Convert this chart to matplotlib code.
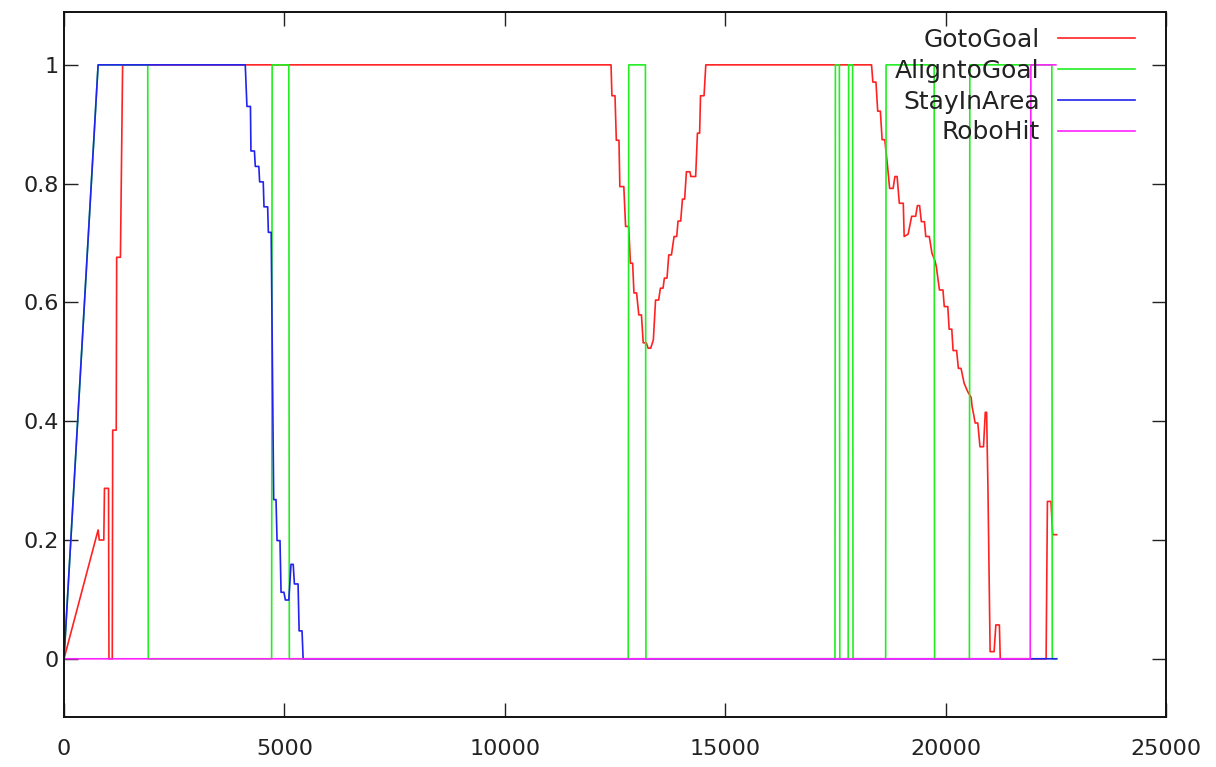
import numpy as np
import matplotlib.pyplot as plt
from matplotlib.ticker import FuncFormatter

# GotoGoal (red)
goto_x = [0, 774, 800, 903, 918, 1010, 1020, 1095, 1105, 1185, 1195, 1280, 1330,
          12410, 12430, 12500, 12530, 12590, 12610, 12700, 12740, 12810, 12850, 12900,
          12930, 12990, 13040, 13100, 13140, 13210, 13250, 13310, 13370, 13420, 13490,
          13530, 13590, 13620, 13680, 13720, 13780, 13840, 13900, 13930, 13990, 14030,
          14080, 14120, 14200, 14220, 14330, 14370, 14420, 14440, 14520, 14560,
          18320, 18350, 18420, 18460, 18520, 18560, 18620, 18680, 18730, 18810, 18850,
          18900, 18950, 19040, 19060, 19150, 19230, 19320, 19360, 19410, 19450, 19520,
          19550, 19630, 19690, 19760, 19790, 19860, 19940, 19970, 20050, 20080, 20140,
          20170, 20250, 20290, 20350, 20420, 20500, 20580, 20600, 20640, 20670, 20730,
          20780, 20860, 20900, 20930, 20960, 21010, 21100, 21140, 21220, 21240,
          22280, 22310, 22390, 22430, 22520]
goto_y = [0, 0.217, 0.2, 0.2, 0.287, 0.287, 0, 0, 0.385, 0.385, 0.676, 0.676, 1.0,
          1.0, 0.948, 0.948, 0.873, 0.873, 0.795, 0.795, 0.728, 0.728, 0.666, 0.666,
          0.616, 0.616, 0.579, 0.579, 0.532, 0.532, 0.523, 0.523, 0.537, 0.604, 0.604,
          0.624, 0.624, 0.641, 0.641, 0.680, 0.680, 0.711, 0.711, 0.737, 0.737, 0.774,
          0.774, 0.820, 0.820, 0.812, 0.812, 0.885, 0.885, 0.948, 0.948, 1.0,
          1.0, 0.971, 0.971, 0.922, 0.922, 0.874, 0.874, 0.832, 0.792, 0.792, 0.812,
          0.812, 0.767, 0.767, 0.711, 0.715, 0.745, 0.745, 0.763, 0.763, 0.736, 0.736,
          0.711, 0.711, 0.683, 0.67, 0.66, 0.621, 0.621, 0.593, 0.593, 0.555, 0.555,
          0.519, 0.519, 0.489, 0.489, 0.464, 0.45, 0.44, 0.425, 0.41, 0.397, 0.397,
          0.357, 0.357, 0.415, 0.415, 0.291, 0.012, 0.012, 0.057, 0.057, 0,
          0, 0.265, 0.265, 0.209, 0.209]

# AligntoGoal (green)
align_x = [0, 774, 1900, 1912, 4710, 4722, 5100, 5112, 12800, 12812, 13190, 13202,
           17490, 17500, 17590, 17600, 17790, 17800, 17890, 17900,
           18640, 18650, 19740, 19750, 20540, 20550, 22410, 22420, 22520]
align_y = [0, 1, 1, 0, 0, 1, 1, 0, 0, 1, 1, 0,
           0, 1, 1, 0, 0, 1, 1, 0,
           0, 1, 1, 0, 0, 1, 1, 0, 0]

# StayInArea (blue)
stay_x = [0, 774, 4112, 4150, 4230, 4241, 4320, 4340, 4420, 4438, 4520, 4537, 4620,
          4636, 4700, 4757, 4810, 4833, 4900, 4924, 4990, 5022, 5100, 5150, 5200,
          5227, 5310, 5334, 5400, 5425, 22520]
stay_y = [0, 1, 1, 0.93, 0.93, 0.855, 0.855, 0.829, 0.829, 0.803, 0.803, 0.761, 0.761,
          0.718, 0.718, 0.268, 0.268, 0.199, 0.199, 0.112, 0.112, 0.099, 0.099, 0.159,
          0.159, 0.126, 0.126, 0.047, 0.047, 0, 0]

# RoboHit (magenta)
hit_x = [0, 21920, 21935, 22500]
hit_y = [0, 0, 1, 1]

labels = ['GotoGoal', 'AligntoGoal', 'StayInArea', 'RoboHit']
colors = ['#ff2222', '#22ee22', '#2222ee', '#ff22ff']

fig = plt.figure(figsize=(12.16, 7.67), dpi=100)
ax = fig.add_axes([64 / 1216, 1 - 717 / 767, (1166 - 64) / 1216, (717 - 12) / 767])

series = [(goto_x, goto_y), (align_x, align_y), (stay_x, stay_y), (hit_x, hit_y)]
for (xs, ys), lab, c in zip(series, labels, colors):
    ax.plot(xs, ys, color=c, lw=1.2, label=lab)

ax.set_xlim(0, 25000)
ax.set_ylim(-0.098, 1.089)
ax.set_xticks(np.arange(0, 25001, 5000))
ax.set_yticks(np.arange(0, 1.01, 0.2))
ax.yaxis.set_major_formatter(FuncFormatter(lambda v, p: '%g' % round(v, 2)))
ax.tick_params(direction='in', length=10, width=1, top=True, right=True,
               labelsize=16, colors='#222222')
ax.tick_params(axis='x', pad=16)
ax.tick_params(axis='y', pad=4)
for s in ax.spines.values():
    s.set_linewidth(1.4)
    s.set_color('#111111')

leg = ax.legend(loc='upper right', bbox_to_anchor=(0.972, 0.977), frameon=False,
                markerfirst=False, fontsize=18, handlelength=3.1, handletextpad=0.72,
                labelspacing=0.27, borderpad=0, borderaxespad=0)
for t in leg.get_texts():
    t.set_color('#222222')

fig.savefig('out.png', dpi=100)
